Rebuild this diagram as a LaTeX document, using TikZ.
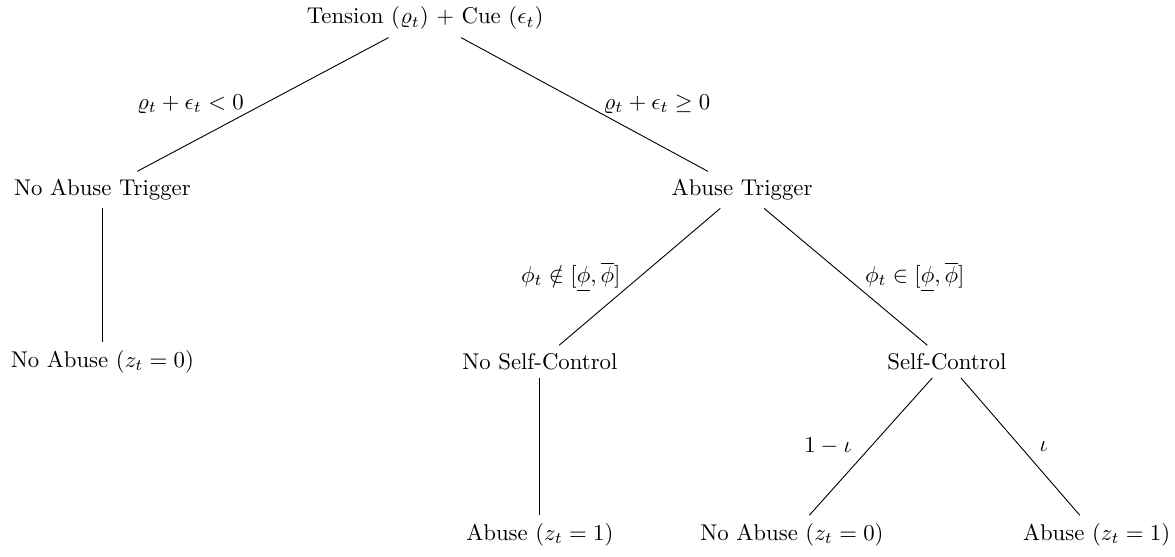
\documentclass[tikz,border=0pt]{standalone}
\usepackage{amsmath,amssymb}
\usetikzlibrary{positioning}

\begin{document}
\begin{tikzpicture}[node distance=2.65cm]
        \tikzstyle{state} = [rectangle, on grid, text centered]
        \tikzstyle{branch} = [thin, draw=black]
        \tikzstyle{lbl} = [inner sep=0pt]

        % page margins
        \useasboundingbox (-6.56,0.28) rectangle (11.57,-8.30);

        % Root
        \node (root) [state] {Tension ($\varrho_t$) + Cue ($\epsilon_t$)};

        % Trigger or not
        \node (notrigger) [state, below left=2.65cm and 4.98cm of root] {No Abuse Trigger};
        \node (trigger) [state, below right=2.65cm and 4.89cm of root] {Abuse Trigger};

        % No trigger path
        \node (noabuse1) [state, below=2.65cm of notrigger] {No Abuse ($z_t = 0$)};

        % Self-control split
        \node (noself) [state, below left=2.65cm and 3.12cm of trigger] {No Self-Control};
        \node (self) [state, below right=2.65cm and 3.16cm of trigger] {Self-Control};
        \node (abuse1) [state, below=2.67cm of noself] {Abuse ($z_t = 1$)};

        % Lapse
        \node (noabuse2) [state, below left=2.67cm and 2.39cm of self] {No Abuse ($z_t = 0$)};
        \node (abuse2) [state, below right=2.67cm and 2.31cm of self] {Abuse ($z_t = 1$)};

        % Branches
        \draw [branch] (root) -- node[lbl, anchor=east, xshift=-0.29cm] {$\varrho_t + \epsilon_t < 0$} (notrigger);
        \draw [branch] (root) -- node[lbl, anchor=west, xshift=0.29cm] {$\varrho_t + \epsilon_t \geq 0$} (trigger);
        \draw [branch] (notrigger) -- (noabuse1);
        \draw [branch] (trigger) -- node[lbl, anchor=east, xshift=-0.29cm] {$\phi_t \notin [\underline{\phi}, \overline{\phi}]$} (noself);
        \draw [branch] (trigger) -- node[lbl, anchor=west, xshift=0.29cm] {$\phi_t \in [\underline{\phi}, \overline{\phi}]$} (self);
        \draw [branch] (noself) -- (abuse1);
        \draw [branch] (self) -- node[lbl, anchor=east, xshift=-0.29cm] {$1 - \iota$} (noabuse2);
        \draw [branch] (self) -- node[lbl, anchor=west, xshift=0.29cm] {$\iota$} (abuse2);
    \end{tikzpicture}
\end{document}
